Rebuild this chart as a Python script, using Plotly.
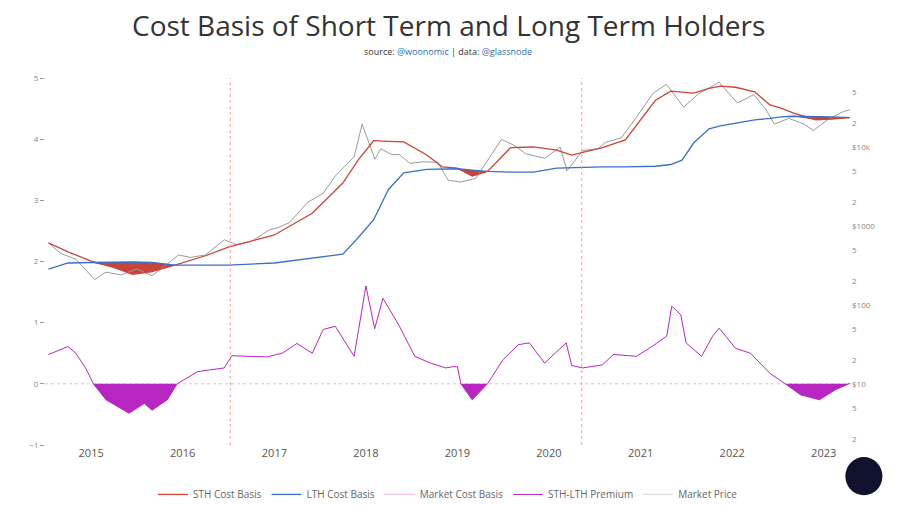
import plotly.graph_objects as go

dates_cb = ["2014-07-15","2014-10-01","2015-01-01","2015-04-01","2015-06-15","2015-09-01","2015-12-01","2016-04-01","2016-07-01","2017-01-01","2017-06-01","2017-10-01","2017-12-01","2018-02-01","2018-04-01","2018-06-01","2018-09-01","2018-11-01","2019-01-01","2019-03-01","2019-05-01","2019-08-01","2019-11-01","2020-02-01","2020-04-01","2020-08-01","2020-11-01","2021-01-01","2021-03-01","2021-05-01","2021-06-15","2021-08-01","2021-10-01","2021-11-15","2022-01-15","2022-04-01","2022-06-01","2022-07-15","2022-09-01","2022-12-01","2023-02-01","2023-04-15"]
sth = [610,470,360,300,245,265,320,420,540,770,1450,3500,6800,12000,11800,11600,7900,5600,5400,4300,4900,9800,10000,9100,7900,9800,12300,22000,39000,51000,49000,48000,55000,59000,57000,50000,34000,31000,27000,22000,22500,23500]
lth = [285,340,345,350,350,345,320,320,320,340,390,440,710,1200,2900,4700,5200,5300,5300,5100,4900,4800,4800,5400,5500,5600,5600,5600,5700,6000,6800,11300,17000,18500,20000,22000,23000,24000,24500,24500,24000,23500]

dates_px = ["2014-07-15","2014-09-01","2014-11-01","2015-01-15","2015-03-01","2015-05-01","2015-07-01","2015-09-01","2015-11-01","2015-12-15","2016-02-01","2016-04-01","2016-06-15","2016-08-01","2016-10-01","2016-12-15","2017-01-15","2017-03-01","2017-05-15","2017-07-15","2017-09-01","2017-11-15","2017-12-17","2018-01-15","2018-02-06","2018-03-01","2018-04-15","2018-05-15","2018-06-25","2018-08-15","2018-10-15","2018-11-25","2019-01-15","2019-03-15","2019-05-15","2019-06-26","2019-08-15","2019-10-01","2019-12-15","2020-02-15","2020-03-13","2020-05-15","2020-07-15","2020-08-15","2020-10-15","2020-12-20","2021-02-20","2021-04-14","2021-06-22","2021-08-20","2021-11-10","2022-01-22","2022-03-28","2022-05-15","2022-06-18","2022-08-15","2022-10-15","2022-11-21","2023-01-20","2023-03-20","2023-04-15"]
price = [610,450,380,210,260,240,285,235,330,430,400,430,670,580,640,900,950,1100,2000,2600,4300,7500,19500,11000,7000,9500,8000,8000,6200,6500,6400,3800,3600,4000,8000,12500,10500,8200,7200,10000,5000,9000,9500,11500,13000,25000,48000,62000,32000,47000,66000,36000,46000,30000,19500,23000,19500,16200,22500,28000,29500]

dates_pr = ["2014-07-15","2014-10-01","2014-11-01","2014-12-10","2015-01-10","2015-03-01","2015-06-01","2015-08-01","2015-09-01","2015-11-01","2015-12-10","2016-03-01","2016-06-15","2016-07-15","2016-12-01","2017-02-01","2017-04-01","2017-06-01","2017-07-15","2017-09-01","2017-11-15","2018-01-01","2018-02-05","2018-03-10","2018-05-15","2018-07-15","2018-09-15","2018-11-15","2018-12-15","2019-01-01","2019-01-15","2019-03-01","2019-05-01","2019-07-01","2019-09-01","2019-10-15","2019-12-15","2020-03-10","2020-04-01","2020-05-15","2020-08-01","2020-09-15","2020-12-15","2021-02-15","2021-04-15","2021-05-05","2021-06-10","2021-07-01","2021-09-01","2021-10-15","2021-11-10","2022-01-15","2022-03-15","2022-06-01","2022-08-01","2022-10-01","2022-12-15","2023-02-15","2023-04-15"]
premium = [0.48,0.61,0.5,0.26,0.0,-0.26,-0.48,-0.32,-0.43,-0.26,0.0,0.2,0.26,0.46,0.44,0.5,0.66,0.5,0.89,0.94,0.45,1.6,0.9,1.4,0.94,0.45,0.34,0.26,0.28,0.28,0.0,-0.26,0.0,0.39,0.64,0.67,0.34,0.67,0.3,0.26,0.31,0.48,0.45,0.61,0.78,1.27,1.13,0.67,0.45,0.78,0.91,0.58,0.5,0.17,0.0,-0.18,-0.26,-0.1,0.01]

RED = "#c9453a"
BLUE = "#3b6fc6"
MAG = "#b726c0"
GRAY = "#9a9a9a"

fig = go.Figure()
sth_low = [min(s, l) for s, l in zip(sth, lth)]
fig.add_trace(go.Scatter(x=dates_cb, y=lth, yaxis="y2", mode="lines", line=dict(width=0), showlegend=False, hoverinfo="skip"))
fig.add_trace(go.Scatter(x=dates_cb, y=sth_low, yaxis="y2", mode="lines", line=dict(width=0), fill="tonexty", fillcolor=RED, showlegend=False, hoverinfo="skip"))
fig.add_trace(go.Scatter(x=dates_px, y=price, yaxis="y2", mode="lines", line=dict(color=GRAY, width=1), showlegend=False))
fig.add_trace(go.Scatter(x=dates_cb, y=sth, yaxis="y2", mode="lines", name="STH Cost Basis", line=dict(color=RED, width=1.3)))
fig.add_trace(go.Scatter(x=dates_cb, y=lth, yaxis="y2", mode="lines", name="LTH Cost Basis", line=dict(color=BLUE, width=1.3)))
fig.add_trace(go.Scatter(x=[None], y=[None], yaxis="y2", mode="lines", name="Market Cost Basis", line=dict(color="#ecc6ec", width=1.3)))
neg = [min(p, 0) for p in premium]
fig.add_trace(go.Scatter(x=dates_pr, y=neg, mode="lines", line=dict(width=0), fill="tozeroy", fillcolor=MAG, showlegend=False, hoverinfo="skip"))
fig.add_trace(go.Scatter(x=dates_pr, y=premium, mode="lines", name="STH-LTH Premium", line=dict(color=MAG, width=1)))
fig.add_trace(go.Scatter(x=[None], y=[None], mode="lines", name="Market Price", line=dict(color="#dddddd", width=1.3)))

for d in ["2016-07-09", "2020-05-11"]:
    fig.add_shape(type="line", xref="x", yref="paper", x0=d, x1=d, y0=0, y1=1, line=dict(color="#f0a0a0", width=1, dash="dot"))
fig.add_shape(type="line", xref="paper", yref="y", x0=0, x1=1, y0=0, y1=0, line=dict(color="#f0b0e0", width=1, dash="dot"), layer="below")
fig.add_shape(type="circle", xref="paper", yref="paper", x0=0.993, x1=1.039, y0=-0.137, y1=-0.033, fillcolor="#10122e", line=dict(width=0))

r_vals = [2, 5, 10, 20, 50, 100, 200, 500, 1000, 2000, 5000, 10000, 20000, 50000]
r_text = ["2", "5", "$10", "2", "5", "$100", "2", "5", "$1000", "2", "5", "$10k", "2", "5"]

fig.add_annotation(text="Cost Basis of Short Term and Long Term Holders", xref="paper", yref="paper", x=0.5, y=1.144, xanchor="center", yanchor="middle",
                   showarrow=False, font=dict(size=28, color="#333", family="Open Sans"))
fig.add_annotation(text="source: <span style='color:#2a6fb5'>@woonomic</span> | data: <span style='color:#2a6fb5'>@glassnode</span>", xref="paper", yref="paper",
                   x=0.5, y=1.071, xanchor="center", yanchor="middle", showarrow=False, font=dict(size=9, color="#333", family="Open Sans"))

fig.update_layout(
    width=900, height=506,
    paper_bgcolor="white", plot_bgcolor="white",
    margin=dict(l=37, r=57, t=70, b=69, autoexpand=False),
    font=dict(family="Open Sans", color="#666"),
    xaxis=dict(range=["2014-07-01", "2023-04-20"], showgrid=False, dtick="M12", tickformat="%Y", ticks="", tickfont=dict(size=11, color="#555"), zeroline=False),
    yaxis=dict(range=[-1, 5], dtick=1, showgrid=False, zeroline=False, tickfont=dict(size=8, color="#888"), ticks="outside", ticklen=4, tickcolor="#999"),
    yaxis2=dict(type="log", range=[0.228, 4.873], overlaying="y", side="right", showgrid=False, tickvals=r_vals, ticktext=r_text, tickfont=dict(size=8, color="#888"), ticks=""),
    legend=dict(orientation="h", traceorder="normal", x=0.5, xanchor="center", yref="container", y=0.01, yanchor="bottom", font=dict(size=10, color="#666")),
    showlegend=True,
)
fig.write_html("out.html")
